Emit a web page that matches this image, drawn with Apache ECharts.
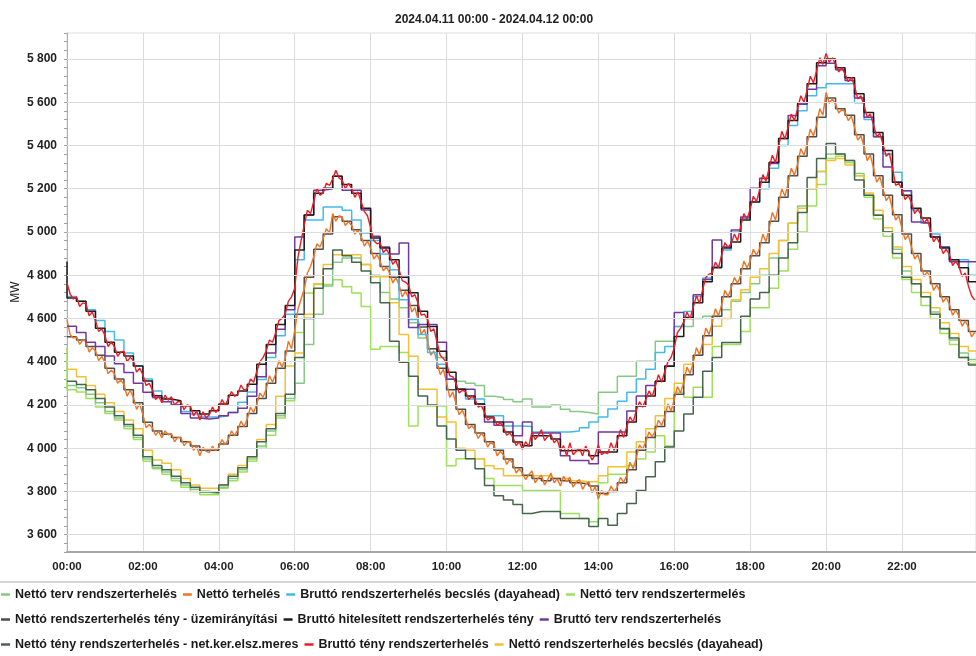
<!DOCTYPE html>
<html><head><meta charset="utf-8">
<script src="https://cdn.jsdelivr.net/npm/echarts/dist/echarts.min.js"></script>
<style>html,body{margin:0;padding:0;background:#fff}#c{width:976px;height:656px}</style>
</head><body><div id="c"></div>
<script>
const chartTitle = '2024.04.11 00:00 - 2024.04.12 00:00';
const yGridValues = [3600,3800,4000,4200,4400,4600,4800,5000,5200,5400,5600,5800];
const yAxisName = 'MW';

const nameNetTervTerh = 'Nettó terv rendszerterhelés';
const nameNetTerh = 'Nettó terhelés';
const nameBrBecs = 'Bruttó rendszerterhelés becslés (dayahead)';
const nameNetTervTerm = 'Nettó terv rendszertermelés';
const nameNetUzem = 'Nettó rendszerterhelés tény - üzemirányítási';
const nameBrHit = 'Bruttó hitelesített rendszerterhelés tény';
const nameBrTerv = 'Bruttó terv rendszerterhelés';
const nameNetKer = 'Nettó tény rendszerterhelés - net.ker.elsz.meres';
const nameBrTeny = 'Bruttó tény rendszerterhelés';
const nameNetBecs = 'Nettó rendszerterhelés becslés (dayahead)';

// 15-minute step series (96 values, 00:00 .. 23:45)
const brHit = [4695,4679,4633,4555,4490,4444,4426,4380,4311,4242,4227,4219,
 4196,4173,4158,4173,4204,4245,4265,4296,4388,4480,4572,4660,
 4917,5078,5179,5202,5257,5220,5179,5110,4972,4926,4871,4790,
 4719,4633,4563,4448,4351,4273,4241,4204,4144,4121,4075,4029,
 4011,4057,4057,4043,3988,3990,3988,3965,3983,3983,4057,4121,
 4195,4241,4310,4379,4517,4604,4673,4770,4834,4926,4954,5055,
 5138,5230,5322,5432,5515,5598,5685,5782,5800,5759,5713,5639,
 5552,5460,5377,5230,5170,5110,5064,4977,4926,4871,4834,4770];
const brHitFirst = 4863;

const netUzem = [4515,4500,4470,4430,4370,4320,4270,4210,4120,4080,4065,4050,
 4030,4010,3990,3990,4020,4060,4100,4160,4230,4300,4370,4450,
 4620,4790,4920,4990,5070,5050,5010,4960,4900,4840,4790,4730,
 4660,4560,4460,4370,4270,4180,4110,4070,4030,3990,3950,3910,
 3875,3860,3850,3860,3850,3840,3835,3825,3790,3800,3840,3900,
 3990,4050,4100,4170,4250,4340,4430,4520,4610,4700,4760,4830,
 4890,4950,5050,5160,5260,5350,5440,5530,5620,5570,5540,5450,
 5360,5260,5170,5080,4990,4900,4820,4760,4700,4640,4590,4540];

const brTerv = [4564,4535,4490,4470,4426,4390,4350,4300,4259,4235,4215,4200,
 4160,4140,4135,4140,4150,4165,4185,4240,4330,4440,4550,4640,
 4977,5078,5193,5200,5257,5193,5193,5101,4980,4930,4898,4949,
 4558,4572,4572,4490,4319,4273,4273,4204,4121,4106,4121,4057,
 4121,4070,4070,4070,3965,3943,3943,3928,4075,4075,4075,4172,
 4241,4290,4310,4380,4627,4600,4710,4780,4963,4930,5009,5069,
 5202,5248,5317,5432,5538,5590,5660,5768,5780,5750,5700,5620,
 5530,5440,5300,5230,5190,5046,5040,4977,4930,4862,4862,4862];

const brBecs = [4702,4680,4640,4590,4540,4500,4440,4380,4320,4265,4230,4200,
 4170,4158,4144,4144,4150,4165,4212,4260,4318,4420,4520,4620,
 4871,5055,5055,5115,5115,5100,5055,4995,4960,4898,4825,4687,
 4595,4526,4443,4388,4319,4273,4227,4227,4150,4150,4103,4103,
 4100,4075,4075,4075,4075,4080,4095,4121,4144,4181,4217,4259,
 4320,4365,4443,4470,4563,4632,4702,4787,4840,4917,5000,5062,
 5140,5200,5294,5400,5492,5560,5630,5667,5685,5685,5685,5598,
 5520,5440,5360,5276,5190,5101,5040,4990,4930,4871,4871,4800];

const netKer = [4310,4295,4270,4230,4190,4150,4110,4060,3960,3920,3900,3870,
 3840,3820,3800,3795,3830,3870,3910,3960,4030,4090,4160,4250,
 4420,4600,4740,4830,4917,4890,4860,4820,4765,4673,4494,4397,
 4333,4241,4200,4103,4043,3990,3951,3905,3827,3780,3760,3740,
 3698,3707,3707,3707,3675,3675,3675,3638,3675,3644,3698,3744,
 3804,3868,3937,4006,4080,4158,4236,4356,4420,4489,4489,4610,
 4690,4720,4800,4880,4950,5090,5252,5340,5409,5360,5330,5240,
 5170,5077,5000,4900,4790,4760,4700,4620,4554,4510,4420,4385];

const netBecs = [4365,4330,4290,4250,4210,4170,4130,4090,3990,3945,3930,3900,
 3860,3830,3815,3815,3830,3880,3920,3960,4040,4110,4240,4380,
 4440,4620,4760,4850,4894,4894,4894,4850,4793,4793,4673,4526,
 4425,4273,4273,4144,4121,4000,3990,3951,3919,3905,3873,3873,
 3873,3873,3873,3860,3860,3850,3845,3845,3873,3914,3914,3983,
 4030,4090,4150,4230,4300,4388,4430,4480,4564,4600,4686,4733,
 4790,4830,4900,4960,5040,5110,5200,5280,5330,5340,5310,5260,
 5180,5100,5020,4930,4840,4780,4720,4650,4580,4530,4470,4450];

const netTervTerh = [4290,4280,4250,4210,4170,4140,4100,4050,3950,3910,3890,3860,
 3830,3810,3795,3790,3820,3860,3900,3950,4010,4080,4150,4230,
 4300,4480,4620,4750,4860,4880,4880,4850,4800,4720,4690,4650,
 4580,4510,4460,4420,4320,4310,4300,4290,4240,4235,4225,4215,
 4227,4190,4190,4200,4180,4170,4165,4158,4259,4259,4333,4333,
 4402,4402,4494,4494,4563,4563,4600,4610,4610,4640,4680,4720,
 4760,4800,4880,4960,5040,5120,5200,5280,5360,5360,5330,5270,
 5170,5080,5000,4920,4820,4760,4700,4630,4550,4500,4440,4410];

const netTervTerm = [4270,4260,4230,4190,4160,4130,4090,4040,3940,3905,3880,3850,
 3820,3800,3785,3785,3815,3850,3890,3940,4000,4060,4140,4220,
 4535,4718,4757,4757,4779,4747,4718,4655,4457,4470,4470,4443,
 4103,4195,4195,4195,3919,3951,3951,3951,3860,3827,3827,3827,
 3804,3804,3804,3804,3698,3698,3675,3660,3840,3880,3880,3920,
 3950,3983,4057,4010,4259,4236,4282,4236,4470,4480,4480,4540,
 4650,4650,4740,4820,4920,5000,5120,5220,5340,5350,5320,5260,
 5160,5060,4980,4880,4780,4720,4660,4600,4530,4480,4420,4390];
const netTervTermFirst = 4466;

// 5-minute actual measurements (288 values, 3 per quarter hour)
const brTeny = [
 4765,4712,4690, 4700,4655,4672, 4668,4612,4630, 4590,4540,4552, 4520,4470,4492, 4470,4425,4445,
 4448,4400,4420, 4405,4352,4370, 4340,4290,4300, 4270,4225,4240, 4210,4245,4222, 4238,4200,4215,
 4215,4178,4200, 4195,4150,4172, 4130,4168,4140, 4155,4190,4165, 4185,4225,4200, 4228,4262,4240,
 4250,4292,4268, 4275,4320,4305, 4355,4400,4420, 4450,4500,4490, 4535,4590,4600, 4620,4680,4700,
 4740,4880,4960, 5030,5100,5085, 5140,5200,5170, 5180,5225,5215, 5245,5285,5250, 5240,5200,5225,
 5200,5160,5185, 5140,5095,5075, 5020,4960,4945, 4950,4905,4920, 4895,4850,4868, 4825,4775,4768,
 4755,4700,4710, 4670,4615,4620, 4595,4540,4552, 4490,4430,4415, 4395,4335,4330, 4300,4255,4268,
 4262,4225,4240, 4228,4190,4198, 4165,4130,4140, 4140,4105,4118, 4098,4060,4070, 4050,4012,4030,
 3995,4030,4008, 4075,4040,4060, 4085,4035,4055, 4065,4025,4040, 3990,4012,3965, 4025,3970,3985,
 4000,3965,4010, 3980,3945,3970, 4015,3970,3980, 3975,4025,3990, 4035,4085,4050, 4100,4145,4120,
 4175,4215,4190, 4225,4265,4238, 4285,4340,4305, 4355,4400,4420, 4465,4535,4555, 4585,4630,4600,
 4650,4705,4670, 4735,4790,4805, 4810,4860,4835, 4895,4950,4930, 4945,4990,4960, 5025,5085,5060,
 5105,5165,5140, 5195,5265,5235, 5295,5355,5320, 5395,5465,5430, 5485,5545,5515, 5570,5630,5600,
 5655,5720,5690, 5745,5805,5775, 5825,5785,5805, 5775,5740,5760, 5730,5695,5715, 5675,5615,5630,
 5585,5530,5545, 5495,5440,5455, 5405,5350,5365, 5295,5215,5225, 5195,5150,5168, 5135,5085,5105,
 5080,5040,5062, 5005,4955,4975, 4945,4900,4920, 4895,4845,4865, 4840,4795,4810, 4750,4705,4685];

const netTerh = [
 4595,4525,4510, 4515,4480,4500, 4495,4445,4465, 4450,4405,4425, 4395,4345,4360, 4345,4300,4315,
 4295,4240,4268, 4235,4180,4205, 4155,4095,4110, 4095,4060,4078, 4048,4080,4062, 4068,4030,4050,
 4050,4012,4028, 4030,3990,4008, 3965,4005,3985, 3980,4010,3988, 4005,4040,4018, 4040,4080,4058,
 4085,4125,4100, 4135,4190,4165, 4205,4255,4235, 4275,4335,4305, 4345,4405,4375, 4415,4495,4460,
 4545,4640,4690, 4735,4810,4840, 4885,4945,4930, 4970,5015,4995, 5085,5050,5075, 5068,5030,5048,
 5030,4990,5008, 4980,4935,4958, 4925,4875,4895, 4865,4820,4838, 4810,4765,4788, 4755,4700,4725,
 4695,4630,4650, 4595,4525,4550, 4495,4430,4450, 4400,4340,4365, 4305,4235,4260, 4205,4155,4175,
 4140,4090,4105, 4085,4045,4068, 4050,4005,4028, 4015,3965,3985, 3970,3925,3948, 3930,3885,3905,
 3885,3855,3878, 3895,3840,3862, 3875,3830,3855, 3885,3840,3858, 3825,3870,3845, 3865,3820,3842,
 3855,3810,3835, 3845,3795,3822, 3765,3805,3785, 3785,3825,3800, 3820,3865,3842, 3875,3935,3905,
 3955,4015,3995, 4030,4075,4052, 4080,4130,4105, 4145,4205,4172, 4225,4285,4255, 4305,4375,4345,
 4395,4465,4432, 4490,4555,4525, 4580,4645,4612, 4665,4730,4702, 4740,4790,4762, 4800,4865,4835,
 4865,4920,4892, 4925,4990,4955, 5015,5090,5055, 5125,5200,5165, 5225,5295,5262, 5315,5385,5355,
 5405,5475,5445, 5495,5570,5540, 5645,5595,5615, 5590,5550,5568, 5555,5515,5535, 5485,5425,5445,
 5395,5330,5355, 5295,5230,5255, 5200,5145,5165, 5105,5055,5075, 5015,4965,4985, 4930,4875,4895,
 4845,4795,4815, 4785,4730,4755, 4725,4675,4698, 4665,4615,4638, 4610,4565,4588, 4560,4515,4535];

const FONT = "'Liberation Sans', Arial, sans-serif";

function stepData(vals, first) {
  const d = [];
  if (first !== undefined) d.push([0, first]);
  vals.forEach((v, i) => d.push([i * 15, v]));
  d.push([1440, vals[vals.length - 1]]);
  return d;
}
function fineData(vals) { return vals.map((v, j) => [j * 5, v]); }

function stepSeries(name, color, vals, first, w) {
  return { name, type: 'line', step: 'end', showSymbol: false, symbol: 'none',
    data: stepData(vals, first), lineStyle: { color, width: w || 1.5 }, itemStyle: { color } };
}
function fineSeries(name, color, vals) {
  return { name, type: 'line', showSymbol: false, symbol: 'none',
    data: fineData(vals), lineStyle: { color, width: 1.4 }, itemStyle: { color } };
}

const C = {
  netTervTerh: '#86c986', netTerh: '#ee7424', brBecs: '#45b9ea', netTervTerm: '#9fe05a',
  netUzem: '#4d4d4d', brHit: '#1c1c1c', brTerv: '#7038a0', netKer: '#46654d',
  brTeny: '#ec1c24', netBecs: '#f2c138'
};

const pad = n => String(n).padStart(2, '0');
const legendText = { fontSize: 12.5, fontWeight: 'bold', color: '#1a1a1a', fontFamily: FONT };
const legendBase = { left: 1, orient: 'horizontal', icon: 'rect', itemWidth: 9, itemHeight: 2.5,
  itemGap: 6, padding: 0, textStyle: legendText, selectedMode: false };

const chart = echarts.init(document.getElementById('c'), null, { renderer: 'canvas' });
chart.setOption({
  animation: false,
  backgroundColor: '#fff',
  title: { text: chartTitle, left: 390, top: 9,
    textStyle: { fontSize: 12, fontWeight: 'bold', color: '#222', fontFamily: FONT } },
  grid: { left: 67, right: 0, top: 33, height: 519, show: true, borderColor: '#dcdcdc', borderWidth: 1,
    containLabel: false, outerBoundsMode: 'none' },
  graphic: [
    { type: 'line', shape: { x1: 0, y1: 582, x2: 976, y2: 582 },
      style: { stroke: '#c9c9c9', lineWidth: 1.5 }, silent: true },
    { type: 'text', x: 16, y: 292, rotation: Math.PI / 2, silent: true,
      style: { text: yAxisName, align: 'center', verticalAlign: 'middle',
        font: '12px ' + FONT, fill: '#222' } }
  ],
  legend: [
    Object.assign({ top: 588, data: [nameNetTervTerh, nameNetTerh, nameBrBecs, nameNetTervTerm] }, legendBase),
    Object.assign({ top: 613, data: [nameNetUzem, nameBrHit, nameBrTerv] }, legendBase),
    Object.assign({ top: 638, data: [nameNetKer, nameBrTeny, nameNetBecs] }, legendBase)
  ],
  xAxis: { type: 'value', min: 0, max: 1437, interval: 120,
    axisLine: { show: true, onZero: false, lineStyle: { color: '#a8a8a8', width: 2 } },
    axisTick: { show: false },
    axisLabel: { margin: 9, fontSize: 11.5, color: '#222', fontWeight: 'bold', fontFamily: FONT,
      showMaxLabel: false,
      formatter: v => pad(Math.floor(v / 60)) + ':' + pad(v % 60) },
    splitLine: { show: true, lineStyle: { color: '#dcdcdc', width: 1 } } },
  yAxis: { type: 'value', min: 3520, max: 5920, interval: 40, offset: 4,
    axisLine: { show: true, lineStyle: { color: '#b0b0b0', width: 1 } },
    axisTick: { show: true, length: 3, lineStyle: { color: '#a0a0a0' } },
    axisLabel: { margin: 6, fontSize: 12, color: '#222', fontWeight: 'bold', fontFamily: FONT,
      formatter: v => (v % 200 === 0 ? String(v).replace(/\B(?=(\d{3})+(?!\d))/g, ' ') : '') },
    splitLine: { show: false } },
  series: [
    { name: '_grid', type: 'line', data: [], silent: true,
      markLine: { silent: true, symbol: ['none', 'none'], label: { show: false }, animation: false,
        lineStyle: { color: '#dcdcdc', type: 'solid', width: 1 },
        data: yGridValues.map(v => ({ yAxis: v })) } },
    stepSeries(nameNetTervTerm, C.netTervTerm, netTervTerm, netTervTermFirst),
    stepSeries(nameNetTervTerh, C.netTervTerh, netTervTerh),
    stepSeries(nameNetBecs, C.netBecs, netBecs),
    stepSeries(nameNetKer, C.netKer, netKer),
    stepSeries(nameNetUzem, C.netUzem, netUzem),
    fineSeries(nameNetTerh, C.netTerh, netTerh),
    stepSeries(nameBrBecs, C.brBecs, brBecs),
    stepSeries(nameBrTerv, C.brTerv, brTerv),
    stepSeries(nameBrHit, C.brHit, brHit, brHitFirst),
    fineSeries(nameBrTeny, C.brTeny, brTeny)
  ]
});
</script>
</body></html>
